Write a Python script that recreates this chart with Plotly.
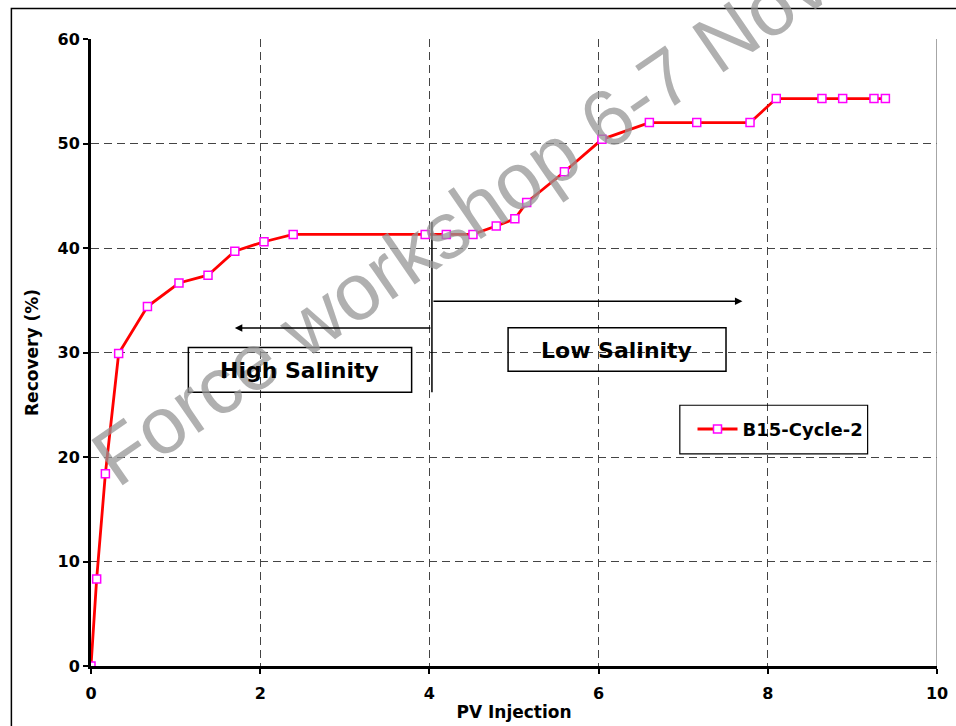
import plotly.graph_objects as go

# PV injected vs. oil recovery for core B15, second cycle
pv_injection = [0.0, 0.067, 0.17, 0.327, 0.667, 1.04, 1.383, 1.70, 2.045, 2.39,
                3.95, 4.20, 4.515, 4.79, 5.01, 5.15, 5.596, 6.04, 6.60, 7.16,
                7.79, 8.10, 8.64, 8.885, 9.255, 9.39]
recovery = [0.0, 8.33, 18.4, 29.9, 34.4, 36.65, 37.4, 39.7, 40.6, 41.3,
            41.3, 41.3, 41.3, 42.1, 42.8, 44.35, 47.3, 50.4, 52.0, 52.0,
            52.0, 54.3, 54.3, 54.3, 54.3, 54.3]
series_name = "B15-Cycle-2"

x_ticks = [0, 2, 4, 6, 8, 10]
y_ticks = [0, 10, 20, 30, 40, 50, 60]

# switch from high- to low-salinity brine
switch_pv = 4.03
phase_labels = ["High Salinity", "Low Salinity"]

BOLD = dict(family="DejaVu Sans", color="black", weight="bold")

fig = go.Figure()
fig.add_trace(go.Scatter(
    x=pv_injection, y=recovery, name=series_name, mode="lines+markers",
    line=dict(color="#ff0000", width=2.8),
    marker=dict(symbol="square", size=8, color="white",
                line=dict(color="#ff00ff", width=1.5)),
))

grid = dict(showgrid=True, gridcolor="#444444", gridwidth=1, griddash="8px,5px")

fig.update_xaxes(
    range=[0, 10], tickvals=x_ticks, ticktext=[str(v) for v in x_ticks],
    showline=True, linecolor="black", linewidth=3, automargin=False,
    ticks="outside", ticklen=5, tickwidth=2, tickcolor="black",
    tickfont=dict(size=16, **BOLD), zeroline=False, ticklabelstandoff=6,
    title=dict(text="PV Injection", font=dict(size=17, **BOLD), standoff=4),
    **grid,
)
fig.update_yaxes(
    range=[0, 60], tickvals=y_ticks, ticktext=[str(v) for v in y_ticks],
    showline=True, linecolor="black", linewidth=3, automargin=False,
    ticks="outside", ticklen=5, tickwidth=2, tickcolor="black",
    tickfont=dict(size=16, **BOLD), zeroline=False,
    title=dict(text="Recovery (%)", font=dict(size=17, **BOLD), standoff=15),
    **grid,
)

shapes = [
    # right edge of the plot area
    dict(type="line", xref="x", yref="y", x0=10, x1=10, y0=0, y1=60,
         line=dict(color="#888888", width=1.5)),
    # outer frame of the figure
    dict(type="rect", xref="paper", yref="paper", x0=-0.0941, x1=1.03,
         y0=-0.11, y1=1.0485, line=dict(color="black", width=1.5)),
    # brine switch marker
    dict(type="line", xref="x", yref="y", x0=switch_pv, x1=switch_pv,
         y0=26.2, y1=42.5, line=dict(color="black", width=1.5)),
    # label boxes
    dict(type="rect", xref="x", yref="y", x0=1.151, x1=3.79, y0=26.19, y1=30.47,
         line=dict(color="black", width=1.5)),
    dict(type="rect", xref="x", yref="y", x0=4.93, x1=7.506, y0=28.2, y1=32.38,
         line=dict(color="black", width=1.5)),
    # legend frame
    dict(type="rect", xref="x", yref="y", x0=6.96, x1=9.18, y0=20.29, y1=24.95,
         line=dict(color="black", width=1.2)),
]

annotations = [
    dict(text="Force workshop 6-7 Nov", xref="paper", yref="paper",
         x=0.437, y=0.712, xanchor="center", yanchor="middle",
         showarrow=False, textangle=-34.5,
         font=dict(family="Liberation Sans", size=80, color="rgba(150,150,150,0.75)")),
    dict(x=1.70, y=32.35, ax=switch_pv, ay=32.35, xref="x", yref="y",
         axref="x", ayref="y", showarrow=True, arrowhead=2, arrowsize=1,
         arrowwidth=1.5, arrowcolor="black", text=""),
    dict(x=7.70, y=34.9, ax=switch_pv, ay=34.9, xref="x", yref="y",
         axref="x", ayref="y", showarrow=True, arrowhead=2, arrowsize=1,
         arrowwidth=1.5, arrowcolor="black", text=""),
    dict(text=phase_labels[0], x=2.47, y=28.3, xref="x", yref="y",
         showarrow=False, font=dict(size=22, **BOLD)),
    dict(text=phase_labels[1], x=6.21, y=30.2, xref="x", yref="y",
         showarrow=False, font=dict(size=22, **BOLD)),
]

fig.update_layout(
    template="none",
    width=956, height=726,
    margin=dict(l=91, r=19, t=39, b=60),
    paper_bgcolor="white", plot_bgcolor="white",
    shapes=shapes, annotations=annotations,
    showlegend=True,
    legend=dict(x=0.711, y=0.407, xanchor="left", yanchor="top",
                bgcolor="rgba(0,0,0,0)", borderwidth=0, itemwidth=40,
                font=dict(size=18, **BOLD)),
)

fig.write_html("out.html")
